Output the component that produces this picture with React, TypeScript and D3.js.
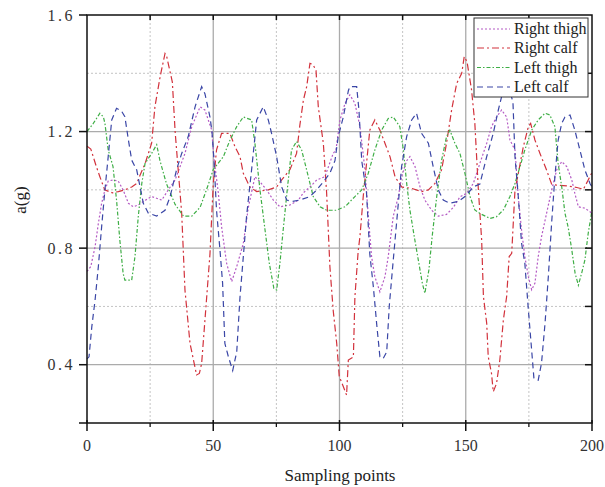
import React from "react";
import * as d3 from "d3";

// [sampling point, a(g)]
const rightThigh: [number, number][] = [
  [0, 0.72], [1.5, 0.737], [3.2, 0.805], [4.5, 0.885], [5.8, 0.954], [7.1, 1.0], [8.4, 1.03], [10.3, 1.034],
  [12.4, 1.03], [14.3, 1.0], [16.4, 0.954], [18.3, 0.942], [20.3, 0.948], [22.3, 0.96], [25.6, 0.977],
  [29.6, 0.965], [32.2, 1.0], [34.9, 1.034], [38.8, 1.125], [41.5, 1.217], [44.8, 1.285], [46.7, 1.274],
  [49.4, 1.205], [50.2, 1.114], [52, 0.99], [53.3, 0.874], [55.3, 0.748], [57.3, 0.685], [59.3, 0.737],
  [61.9, 0.816], [63.9, 0.94], [66.5, 1.045], [68.5, 1.028], [71.1, 1.0], [73.8, 0.965], [76.4, 0.942],
  [80.4, 0.948], [83.7, 0.965], [85.7, 0.99], [88.3, 1.01], [91, 1.034], [94.2, 1.045], [97.5, 1.125],
  [98.6, 1.137], [100.2, 1.24], [102.2, 1.297], [104.1, 1.326], [106.1, 1.297], [108.1, 1.217],
  [110.1, 1.068], [111.4, 0.91], [112.7, 0.771], [114, 0.702], [116, 0.65], [118, 0.702], [119.3, 0.771],
  [121.3, 0.91], [123.3, 0.977], [124.6, 1.045], [126.6, 1.1], [127.9, 1.114], [129.9, 1.08],
  [131.9, 1.01], [133.8, 0.965], [136.5, 0.93], [139.1, 0.91], [142.4, 0.916], [145.1, 0.94],
  [147.7, 0.976], [150.3, 0.988], [153, 1.022], [155.6, 1.091], [158.3, 1.16], [160.2, 1.217],
  [162.2, 1.25], [164.2, 1.274], [166.2, 1.25], [167.5, 1.171], [169.5, 1.137], [170.8, 0.977],
  [172.1, 0.862], [173.4, 0.771], [174.8, 0.702], [176.1, 0.657], [177.4, 0.68], [178.7, 0.771],
  [180, 0.839], [182, 0.919], [184, 0.999], [186, 1.068], [188, 1.097], [190, 1.08], [192, 1.034],
  [193.2, 0.988], [194.6, 0.942], [197.2, 0.937], [199.2, 0.925], [200, 0.92],
];

const rightCalf: [number, number][] = [
  [0, 1.15], [1.5, 1.14], [3.7, 1.08], [5.1, 1.045], [7, 1.0], [10, 0.99], [12.4, 0.994], [15, 1.0],
  [17.7, 1.01], [19.7, 1.022], [21, 1.05], [23, 1.09], [25.6, 1.16], [26.9, 1.285], [29, 1.39],
  [30.9, 1.468], [31.5, 1.46], [33.8, 1.37], [34.9, 1.2], [37.5, 0.92], [38.8, 0.656], [40.8, 0.473],
  [43.4, 0.365], [44.5, 0.37], [45.4, 0.404], [48.7, 0.78], [50, 1.02], [51.3, 1.137], [53.3, 1.194],
  [56.6, 1.194], [58.6, 1.148], [60.6, 1.114], [61.9, 1.057], [64.5, 1.01], [67.2, 0.994], [71.8, 1.0],
  [75.1, 1.01], [77.1, 1.034], [80.4, 1.07], [83, 1.125], [84.3, 1.222], [85.7, 1.308], [87, 1.354],
  [88.3, 1.434], [89.5, 1.43], [90.7, 1.41], [91.6, 1.285], [93.6, 1.16], [94.9, 0.99], [96.2, 0.736],
  [97.5, 0.587], [98.9, 0.473], [99.9, 0.36], [101.5, 0.325], [102.8, 0.296], [103.5, 0.416],
  [105.5, 0.427], [106.1, 0.633], [107.4, 0.79], [108.1, 0.84], [109.4, 0.977], [110.7, 1.09],
  [112, 1.205], [114, 1.24], [116, 1.205], [118, 1.16], [120, 1.114], [122, 1.045], [124.6, 1.01],
  [128.6, 1.005], [132.5, 0.994], [135.2, 1.0], [137.8, 1.022], [140.4, 1.068], [142.4, 1.16],
  [144.4, 1.274], [146.4, 1.365], [148.4, 1.4], [149.4, 1.457], [150.5, 1.44], [152.3, 1.343],
  [153.6, 1.228], [155, 1.0], [156.3, 0.828], [157, 0.634], [158.3, 0.542], [158.9, 0.428],
  [160.2, 0.37], [160.9, 0.307], [162.2, 0.336], [163.5, 0.416], [164.9, 0.554], [166.2, 0.634],
  [167.2, 0.771], [168.2, 0.782], [169.5, 1.0], [170.8, 1.056], [172.8, 1.148], [174.8, 1.217],
  [175.7, 1.228], [177.4, 1.171], [179.4, 1.125], [182, 1.068], [184, 1.02], [186, 1.016], [190, 1.014],
  [194, 1.008], [196.6, 1.002], [198.5, 1.034], [200, 1.06],
];

const leftThigh: [number, number][] = [
  [0, 1.2], [2.5, 1.228], [5.1, 1.263], [6.5, 1.25], [7.1, 1.228], [8.4, 1.137], [10.3, 1.08],
  [11.7, 0.965], [13, 0.828], [14.3, 0.714], [15, 0.69], [17.7, 0.69], [19, 0.771], [20.3, 0.908],
  [21.7, 1.022], [23, 1.091], [25.6, 1.125], [27.6, 1.155], [28.9, 1.1], [31.5, 1.02], [34.9, 0.95],
  [38.2, 0.91], [41.5, 0.91], [44.8, 0.94], [48, 1.017], [50, 1.07], [54, 1.114], [56.6, 1.17],
  [59.3, 1.217], [61.9, 1.25], [65.2, 1.24], [66.5, 1.16], [68.5, 1.0], [70.5, 0.863], [72.2, 0.748],
  [74, 0.662], [75.1, 0.656], [76.4, 0.748], [77.7, 0.863], [79.3, 1.0], [81, 1.137], [83, 1.166],
  [85, 1.137], [87, 1.068], [89.6, 0.977], [92.3, 0.942], [94.9, 0.93], [98.6, 0.93], [102.2, 0.942],
  [106.1, 0.977], [108.8, 1.0], [111.4, 1.057], [114, 1.137], [116.7, 1.205], [119.3, 1.245],
  [121.3, 1.25], [123.9, 1.217], [125.3, 1.137], [126.6, 1.022], [127.9, 0.93], [129.6, 0.84],
  [131.2, 0.76], [132.8, 0.68], [133.8, 0.645], [135.4, 0.725], [136.7, 0.84], [138.5, 0.977],
  [140.4, 1.1], [142.4, 1.183], [143.7, 1.205], [145.7, 1.16], [147.7, 1.125], [149.7, 1.056],
  [151.7, 0.977], [153.6, 0.931], [155.6, 0.919], [159.6, 0.902], [162.2, 0.908], [164.9, 0.931],
  [167.5, 0.977], [169.5, 1.022], [171.5, 1.08], [173.4, 1.137], [176.1, 1.205], [178.7, 1.24],
  [181.4, 1.263], [183.3, 1.257], [185.3, 1.217], [186.6, 1.09], [188, 1.011], [189.3, 0.92],
  [190.6, 0.87], [192, 0.794], [193.3, 0.714], [194.6, 0.673], [195.9, 0.714], [197.2, 0.76],
  [198.5, 0.851], [200, 0.93],
];

const leftCalf: [number, number][] = [
  [0, 0.42], [0.8, 0.427], [1.9, 0.53], [3.2, 0.622], [4.5, 0.737], [5.8, 0.874], [7.1, 1.0],
  [8.4, 1.114], [9.8, 1.24], [11.7, 1.28], [13.7, 1.27], [15, 1.251], [16.4, 1.171], [17.7, 1.102],
  [19.7, 1.068], [21, 1.011], [22.3, 0.954], [24.3, 0.92], [27.6, 0.91], [30.9, 0.93], [32.9, 0.976],
  [35.5, 1.07], [37.5, 1.125], [40.1, 1.183], [42.8, 1.285], [45.4, 1.354], [46.7, 1.33],
  [48.7, 1.25], [49.5, 1.2], [50.3, 1.1], [51.3, 0.93], [52.7, 0.79], [53.7, 0.68], [54.6, 0.473],
  [56, 0.427], [57.7, 0.38], [59.3, 0.444], [60.6, 0.633], [61.9, 0.77], [63.2, 0.91], [65.2, 1.07],
  [67.2, 1.24], [69.8, 1.285], [71.8, 1.24], [73.1, 1.194], [75.1, 1.114], [77.1, 1.01], [79.1, 0.965],
  [81, 0.96], [84.3, 0.965], [88.3, 0.977], [91, 1.0], [94.2, 1.034], [96.2, 1.057], [98.2, 1.1],
  [99.5, 1.183], [101.5, 1.25], [103.5, 1.34], [104.1, 1.354], [106.8, 1.354], [107.7, 1.274],
  [108.8, 1.1], [110.7, 0.99], [112, 0.78], [113.4, 0.668], [114.7, 0.542], [116, 0.427],
  [117.3, 0.421], [118.7, 0.444], [119.7, 0.6], [121.3, 0.76], [123.3, 0.954], [124.6, 1.08],
  [126.6, 1.183], [128.6, 1.24], [130.5, 1.263], [132.5, 1.194], [135.2, 1.16], [137.1, 1.08],
  [139.1, 1.0], [141.1, 0.965], [143.7, 0.954], [147, 0.96], [149.7, 0.977], [153, 1.01],
  [155.6, 1.02], [158.3, 1.114], [160.9, 1.194], [162.9, 1.274], [164.2, 1.32], [165.5, 1.34],
  [167.5, 1.34], [168.7, 1.3], [169.5, 1.114], [170.8, 0.977], [172.1, 0.817], [173.4, 0.748],
  [174.8, 0.588], [176.1, 0.45], [177, 0.353], [178.7, 0.347], [180, 0.405], [181.4, 0.542],
  [182.7, 0.702], [184, 0.885], [185.3, 1.045], [186.6, 1.171], [188, 1.228], [189.3, 1.25],
  [191.3, 1.257], [193.2, 1.205], [195.2, 1.137], [197.2, 1.068], [199.2, 1.022], [200, 1.01],
];

const seriesNames = ["Right thigh", "Right calf", "Left thigh", "Left calf"];
const seriesData = [rightThigh, rightCalf, leftThigh, leftCalf];
const seriesColors = ["#b45ac4", "#d2323c", "#3fae46", "#3a46a6"];
const seriesDash = ["2,2", "7,3,2,3", "4,2,1.5,2", "6,4"];

const xMajorTicks = [0, 50, 100, 150, 200];
const xMinorTicks = [25, 75, 125, 175];
const yMajorTicks = [0.4, 0.8, 1.2, 1.6];
const yMinorTicks = [0.6, 1.0, 1.4];
const xTitle = "Sampling points";
const yTitle = "a(g)";

const SERIF = "'Liberation Serif', 'DejaVu Serif', serif";

export default function App() {
  const L = 87, R = 592, T = 15, B = 423;
  const x = d3.scaleLinear().domain([0, 200]).range([L, R]);
  const y = d3.scaleLinear().domain([0.2, 1.6]).range([B, T]);
  const line = d3.line<[number, number]>().x((d) => x(d[0])).y((d) => y(d[1]));
  const allY = [...yMajorTicks, ...yMinorTicks];
  const ts = { fontFamily: SERIF };

  const legX = 474, legY = 18, legW = 114, legH = 79;
  const rowY = [29, 48, 67.5, 87];

  return (
    <svg width={605} height={487} style={{ position: "absolute", left: 0, top: 0, background: "#fff" }}>
      <rect width={605} height={487} fill="#fff" />
      {yMinorTicks.map((v) => (
        <line key={"ym" + v} x1={L} x2={R} y1={y(v)} y2={y(v)} stroke="#c4c4c4" strokeDasharray="2,2" strokeWidth={1} />
      ))}
      {xMinorTicks.map((v) => (
        <line key={"xm" + v} x1={x(v)} x2={x(v)} y1={T} y2={B} stroke="#c4c4c4" strokeDasharray="2,2" strokeWidth={1} />
      ))}
      {yMajorTicks.filter((v) => v < 1.6).map((v) => (
        <line key={"yM" + v} x1={L} x2={R} y1={y(v)} y2={y(v)} stroke="#ababab" strokeWidth={1.3} />
      ))}
      {xMajorTicks.filter((v) => v > 0 && v < 200).map((v) => (
        <line key={"xM" + v} x1={x(v)} x2={x(v)} y1={T} y2={B} stroke="#ababab" strokeWidth={1.3} />
      ))}
      {seriesData.map((d, i) => (
        <path key={seriesNames[i]} d={line(d) || ""} fill="none" stroke={seriesColors[i]} strokeWidth={1.2} strokeDasharray={seriesDash[i]} />
      ))}
      <rect x={L} y={T} width={R - L} height={B - T} fill="none" stroke="#111" strokeWidth={1.5} />
      {yMajorTicks.map((v) => (
        <line key={"lt" + v} x1={L - 8} x2={L} y1={y(v)} y2={y(v)} stroke="#111" strokeWidth={1.5} />
      ))}
      <line x1={L - 8} x2={L} y1={B} y2={B} stroke="#111" strokeWidth={1.5} />
      {allY.filter((v) => v < 1.6).map((v) => (
        <line key={"rt" + v} x1={R - 7} x2={R} y1={y(v)} y2={y(v)} stroke="#111" strokeWidth={1.5} />
      ))}
      {[...xMajorTicks, ...xMinorTicks].filter((v) => v > 0 && v < 200).map((v) => (
        <line key={"tt" + v} x1={x(v)} x2={x(v)} y1={T} y2={T + 5} stroke="#111" strokeWidth={1.5} />
      ))}
      {xMajorTicks.map((v) => (
        <line key={"bt" + v} x1={x(v)} x2={x(v)} y1={B - 3} y2={B + 8} stroke="#111" strokeWidth={1.5} />
      ))}
      {xMinorTicks.map((v) => (
        <line key={"bm" + v} x1={x(v)} x2={x(v)} y1={B} y2={B + 4} stroke="#111" strokeWidth={1.3} />
      ))}
      {yMajorTicks.map((v) => (
        <text key={"yl" + v} x={75} y={y(v) + 5.5} textAnchor="end" fontSize={16} letterSpacing={2.5} fill="#333" style={ts}>
          {v.toFixed(1)}
        </text>
      ))}
      {xMajorTicks.map((v) => (
        <text key={"xl" + v} x={x(v)} y={451} textAnchor="middle" fontSize={16} fill="#333" style={ts}>
          {v}
        </text>
      ))}
      <text x={340} y={481} textAnchor="middle" fontSize={17} fill="#222" style={ts}>{xTitle}</text>
      <text transform="translate(26,200) rotate(-90)" textAnchor="middle" fontSize={17} fill="#222" style={ts}>{yTitle}</text>
      <rect x={legX} y={legY} width={legW} height={legH} fill="#fff" stroke="#333" strokeWidth={1} />
      {seriesNames.map((n, i) => (
        <g key={"lg" + n}>
          <line x1={477} x2={510} y1={rowY[i]} y2={rowY[i]} stroke={seriesColors[i]} strokeWidth={1.2} strokeDasharray={seriesDash[i]} />
          <text x={514} y={rowY[i] + 5} fontSize={16} fill="#222" style={ts}>{n}</text>
        </g>
      ))}
    </svg>
  );
}
